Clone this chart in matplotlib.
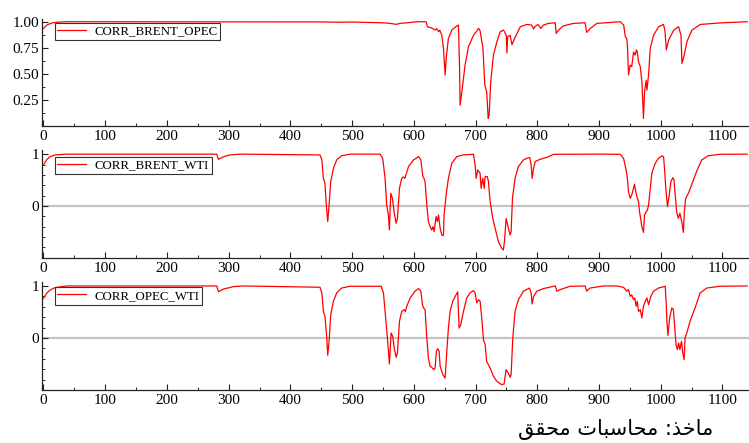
import matplotlib
matplotlib.use("Agg")
import matplotlib.pyplot as plt
from matplotlib.ticker import MultipleLocator, FixedLocator

plt.rcParams['font.family'] = ['Liberation Serif', 'DejaVu Sans']

brent_opec_x = [0, 3, 6, 10, 15, 25, 40, 450, 480, 500, 520, 550, 560, 572, 578, 590, 605,
                610, 620, 622, 629, 634.5, 637, 640, 642, 645.4, 648, 650.7, 652.4, 656, 661.5,
                669.6, 672.3, 674, 675, 677.8, 683, 688.5, 696.6, 702, 704.7, 707, 708, 712, 715,
                718, 720.5, 722, 724.6, 729, 734.6, 740, 745.4, 749.7, 750.8, 752, 756, 759,
                764.5, 772.5, 783, 791, 794, 796, 801, 806, 810, 818, 829, 830.6, 834.4, 842,
                858.7, 877.5, 880, 886, 896.6, 934.5, 940, 942.6, 945, 946.3, 947.8, 950.5, 953,
                956, 958.5, 960.5, 962, 964, 966.8, 969.5, 972, 973.8, 976.5, 977.6, 980.3, 983,
                988.4, 996.5, 1004.6, 1007, 1009, 1012.8, 1021, 1029, 1032.8, 1034.4, 1038,
                1042.5, 1050.6, 1058.7, 1064, 1100, 1140]
brent_opec_y = [0.935, 0.955, 0.97, 0.98, 0.99, 0.997, 1.0, 0.998, 0.995, 0.997, 0.994, 0.99,
                0.985, 0.975, 0.985, 0.99, 1.0, 1.0, 1.0, 0.952, 0.94, 0.92, 0.935, 0.904, 0.92,
                0.87, 0.745, 0.49, 0.65, 0.84, 0.92, 0.96, 0.968, 0.585, 0.20, 0.33, 0.585, 0.76,
                0.87, 0.91, 0.936, 0.92, 0.89, 0.745, 0.39, 0.33, 0.074, 0.106, 0.425, 0.68,
                0.81, 0.904, 0.92, 0.87, 0.70, 0.856, 0.87, 0.78, 0.856, 0.952, 0.974, 0.968,
                0.93, 0.952, 0.974, 0.936, 0.968, 0.984, 0.99, 0.888, 0.92, 0.96, 0.984, 0.99,
                0.898, 0.936, 0.984, 1.0, 0.968, 0.856, 0.84, 0.745, 0.49, 0.585, 0.57, 0.71,
                0.68, 0.73, 0.71, 0.617, 0.57, 0.425, 0.074, 0.33, 0.44, 0.345, 0.49, 0.745, 0.87,
                0.952, 0.974, 0.904, 0.73, 0.825, 0.92, 0.952, 0.87, 0.60, 0.68, 0.81, 0.92,
                0.952, 0.974, 0.99, 1.0]

brent_wti_x = [0, 5, 10.5, 18.6, 37.5, 280.7, 283.4, 291.5, 302, 318.5, 448, 451, 453.5, 456,
               457.8, 460.5, 462.7, 465.4, 469.7, 475, 483, 497, 545.3, 549.6, 553.4, 556,
               558.8, 560.4, 562.6, 565.3, 568, 571.3, 573.4, 576.7, 580.4, 583, 585.5, 587.5,
               591.4, 599.5, 607.7, 611.4, 614.6, 616.5, 618.2, 621, 623.6, 626.4, 629, 631,
               632.8, 636, 638, 640, 642.6, 645.4, 648, 649, 652.3, 656, 661.5, 669.6, 680,
               696.6, 699.3, 701, 703.6, 707.4, 709, 711.7, 714, 715.5, 719, 720.9, 723.6,
               727.9, 731.7, 737, 742.4, 745, 746.8, 749.5, 753.2, 756, 757.6, 759.8, 764,
               769.4, 777.5, 785.8, 788, 790, 791.7, 794, 796.6, 802, 810, 815, 826.3, 902,
               934.3, 939.7, 944, 946, 947.8, 950.5, 953, 955.9, 957.5, 959.6, 961.3, 964,
               965.6, 967.8, 969.4, 972, 973.8, 976.5, 978.5, 980.3, 983, 985.6, 991, 996.5,
               1001.8, 1004.6, 1006.3, 1008.4, 1011, 1013.8, 1016.4, 1019.7, 1021.5, 1023,
               1025.8, 1028.5, 1031, 1034, 1036.7, 1038.3, 1040.4, 1044.8, 1050, 1058, 1066.4,
               1077, 1096, 1140]
brent_wti_y = [0.79, 0.89, 0.95, 0.985, 1.0, 1.0, 0.90, 0.95, 0.985, 1.0, 0.985, 0.888, 0.53,
               0.44, 0.084, -0.30, 0.02, 0.47, 0.727, 0.888, 0.97, 1.0, 1.0, 0.92, 0.534, 0.02,
               -0.174, -0.463, 0.245, 0.148, -0.11, -0.335, -0.24, 0.34, 0.534, 0.56, 0.534,
               0.61, 0.76, 0.888, 0.952, 0.888, 0.566, 0.534, 0.47, 0.02, -0.30, -0.40, -0.463,
               -0.40, -0.495, -0.206, -0.30, -0.174, -0.43, -0.56, -0.573, -0.174, 0.21, 0.534,
               0.824, 0.952, 0.985, 0.997, 0.79, 0.534, 0.695, 0.63, 0.34, 0.534, 0.34, 0.566,
               0.566, 0.47, 0.084, -0.24, -0.43, -0.69, -0.817, -0.85, -0.69, -0.24, -0.43,
               -0.56, -0.495, 0.148, 0.534, 0.76, 0.888, 0.933, 0.93, 0.79, 0.534, 0.727, 0.856,
               0.888, 0.92, 0.935, 0.997, 1.0, 0.997, 0.92, 0.695, 0.534, 0.277, 0.148, 0.21,
               0.34, 0.42, 0.277, 0.18, 0.084, -0.11, -0.27, -0.40, -0.51, -0.174, -0.11, -0.08,
               0.02, 0.34, 0.63, 0.824, 0.92, 0.965, 0.952, 0.695, 0.31, -0.013, 0.21, 0.47,
               0.547, 0.5, 0.277, -0.11, -0.24, -0.14, -0.30, -0.51, -0.11, 0.148, 0.245, 0.405,
               0.663, 0.888, 0.97, 0.997, 1.0]

opec_wti_x = [0, 5.1, 10.5, 18.6, 37.5, 280.7, 283.4, 291.5, 307.7, 324, 448, 451, 453.5, 456,
              459, 460.5, 462.7, 465.4, 469.7, 475, 483, 497, 547, 550.8, 553.4, 557.2, 560.4,
              563.2, 565.8, 568.6, 571.3, 573.4, 576.7, 580.4, 584, 586.5, 588.6, 594, 602,
              607.7, 611.4, 614, 615.8, 618.2, 621, 623.6, 626.4, 629, 632.3, 634.4, 636.6,
              638.8, 641, 642.6, 647, 650.7, 653.4, 656, 658.8, 663, 668.5, 671.1, 673.3, 676,
              680.4, 685.7, 691, 696.6, 699.3, 702, 704.7, 707.4, 710, 712.8, 715.5, 718,
              723.6, 729, 734.4, 742.4, 746.2, 749.5, 753.2, 756, 757.6, 760.3, 764, 769.4,
              777.5, 787.4, 790, 791.7, 794, 799.3, 810, 829, 831.7, 837, 853, 877.5, 880,
              885.5, 907, 929, 939.7, 945, 947.8, 950.5, 953, 955.9, 958, 960, 962, 964, 966.8,
              969.5, 972, 975, 977.6, 980.3, 984, 988.4, 996.5, 1007.3, 1009, 1010, 1011.7,
              1014.4, 1018, 1020.5, 1022, 1024.8, 1027, 1029, 1031, 1033.6, 1035.7, 1037.9,
              1039.4, 1042.2, 1047.5, 1055.6, 1063.7, 1074.5, 1096, 1140]
opec_wti_y = [0.76, 0.86, 0.92, 0.968, 1.0, 1.0, 0.89, 0.94, 0.987, 1.0, 0.975, 0.865, 0.51,
              0.417, 0.0, -0.333, -0.064, 0.45, 0.705, 0.865, 0.96, 0.994, 0.994, 0.865, 0.51,
              0.0, -0.5, 0.096, 0.03, -0.224, -0.37, -0.29, 0.32, 0.51, 0.545, 0.51, 0.61,
              0.77, 0.90, 0.95, 0.90, 0.64, 0.577, 0.545, 0.0, -0.385, -0.545, -0.565, -0.61,
              -0.577, -0.256, -0.205, -0.256, -0.545, -0.705, -0.77, -0.256, 0.19, 0.51, 0.705,
              0.833, 0.885, 0.19, 0.256, 0.51, 0.77, 0.865, 0.91, 0.865, 0.673, 0.737, 0.705,
              0.385, -0.032, -0.128, -0.45, -0.577, -0.737, -0.833, -0.897, -0.885, -0.61,
              -0.673, -0.756, -0.705, 0.0, 0.51, 0.737, 0.90, 0.96, 0.865, 0.654, 0.80, 0.90,
              0.95, 1.0, 0.90, 0.93, 0.994, 1.0, 0.90, 0.96, 1.0, 1.0, 0.974, 0.90, 0.93, 0.80,
              0.83, 0.737, 0.77, 0.61, 0.705, 0.51, 0.545, 0.385, 0.61, 0.705, 0.77, 0.64,
              0.80, 0.90, 0.96, 0.994, 0.64, 0.32, 0.05, 0.385, 0.577, 0.55, 0.32, -0.128,
              -0.224, -0.096, -0.224, -0.064, -0.29, -0.417, 0.0, 0.096, 0.32, 0.577, 0.865,
              0.96, 0.994, 1.0]

series = [
    ("CORR_BRENT_OPEC", brent_opec_x, brent_opec_y),
    ("CORR_BRENT_WTI", brent_wti_x, brent_wti_y),
    ("CORR_OPEC_WTI", opec_wti_x, opec_wti_y),
]

# "ماخذ: محاسبات محقق" in shaped, visual (left-to-right) order
caption = ("\ufed6\ufed8\ufea4\ufee3 \ufe95\ufe8e\ufe92\ufeb3\ufe8e\ufea4\ufee3 "
           ":\ufeac\ufea7\ufe8e\ufee3")

W, H = 749, 443
fig = plt.figure(figsize=(W / 100, H / 100), dpi=100)

# axes boxes in pixels: (bottom, top)
boxes = [(126.1, 18.6), (258.3, 150.0), (390.0, 281.8)]
ylims = [(0.0, 1.03), (-1.01, 1.08), (-1.0, 1.08)]
leg_tops = [0.962, 0.938, 0.949]
x_left = 42

axes = []
for i, (name, xs, ys) in enumerate(series):
    bot, top = boxes[i]
    ax = fig.add_axes([x_left / W, 1 - bot / H, 1 - x_left / W, (bot - top) / H])
    ax.plot(xs, ys, color="#ff0000", linewidth=0.9, label=name, zorder=3)
    ax.set_xlim(-2.4, 1143)
    ax.set_ylim(*ylims[i])
    if i == 0:
        ax.yaxis.set_major_locator(FixedLocator([0.25, 0.5, 0.75, 1.0]))
        ax.yaxis.set_minor_locator(FixedLocator([0.125, 0.375, 0.625, 0.875]))
        ax.yaxis.set_major_formatter(plt.FuncFormatter(lambda v, p: f"{v:.2f}"))
    else:
        ax.axhline(0, color="#c4c4c4", linewidth=1.6, zorder=1)
        ax.yaxis.set_major_locator(FixedLocator([0, 1]))
        ax.yaxis.set_minor_locator(FixedLocator([-0.8, -0.6, -0.4, -0.2, 0.2, 0.4, 0.6, 0.8]))
    ax.xaxis.set_major_locator(MultipleLocator(100))
    ax.xaxis.set_minor_locator(MultipleLocator(50))
    for s in ["top", "right"]:
        ax.spines[s].set_visible(False)
    for s in ["left", "bottom"]:
        ax.spines[s].set_color("#222222")
        ax.spines[s].set_linewidth(0.9)
    ax.tick_params(which="major", direction="in", length=4.5, width=0.8, labelsize=11,
                   color="#222222")
    ax.tick_params(which="minor", direction="in", length=2.5, width=0.7, color="#222222")
    ax.tick_params(axis="x", pad=3)
    ax.tick_params(axis="y", pad=2)
    leg = ax.legend(loc="upper left", bbox_to_anchor=(0.018, leg_tops[i]), borderaxespad=0,
                    fontsize=9.3, frameon=True, fancybox=False, handlelength=2.2,
                    handletextpad=0.7, borderpad=0.2, framealpha=1)
    leg.get_frame().set_edgecolor("#333333")
    leg.get_frame().set_linewidth(0.8)
    axes.append(ax)

fig.text(713 / W, 1 - 429 / H, caption, family="DejaVu Sans", fontsize=15,
         ha="right", va="center")

fig.savefig("out.png", dpi=100)
